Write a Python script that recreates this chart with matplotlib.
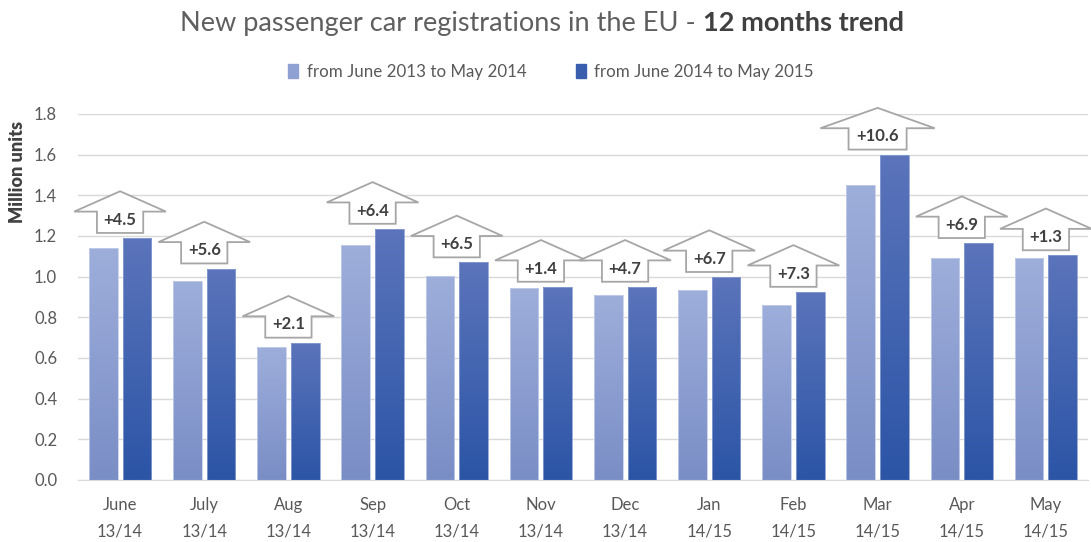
import numpy as np
import matplotlib
matplotlib.use('Agg')
import matplotlib.pyplot as plt
from matplotlib.patches import Polygon
from matplotlib.colors import LinearSegmentedColormap

plt.rcParams['font.family'] = ['Lato', 'DejaVu Sans']

months = ['June\n13/14', 'July\n13/14', 'Aug\n13/14', 'Sep\n13/14', 'Oct\n13/14', 'Nov\n13/14',
          'Dec\n13/14', 'Jan\n14/15', 'Feb\n14/15', 'Mar\n14/15', 'Apr\n14/15', 'May\n14/15']
prev_year = [1.14, 0.98, 0.655, 1.155, 1.005, 0.945, 0.91, 0.935, 0.86, 1.45, 1.09, 1.09]
this_year = [1.19, 1.04, 0.675, 1.235, 1.07, 0.95, 0.95, 0.998, 0.925, 1.60, 1.165, 1.105]
changes = ['+4.5', '+5.6', '+2.1', '+6.4', '+6.5', '+1.4', '+4.7', '+6.7', '+7.3', '+10.6', '+6.9', '+1.3']
legend_labels = ['from June 2013 to May 2014', 'from June 2014 to May 2015']

light_cmap = LinearSegmentedColormap.from_list('light', ['#7a8ec6', '#9eaedb'])
dark_cmap = LinearSegmentedColormap.from_list('dark', ['#2c55a6', '#5b74bb'])

fig = plt.figure(figsize=(10.91, 5.42), dpi=100)
ax = fig.add_axes([78 / 1091, 62 / 542, 1010 / 1091, (480 - 114) / 542])

x = np.arange(len(months))
grad = np.linspace(0, 1, 100).reshape(-1, 1)

bars1 = ax.bar(x - 0.2, prev_year, 0.34, color='none', edgecolor='#c5cfea', linewidth=0.6, zorder=3)
bars2 = ax.bar(x + 0.2, this_year, 0.34, color='none', edgecolor='#8a9fd2', linewidth=0.6, zorder=3)
for bars, cmap in [(bars1, light_cmap), (bars2, dark_cmap)]:
    for b in bars:
        x0, y0 = b.get_x(), b.get_y()
        im = ax.imshow(grad, extent=[x0, x0 + b.get_width(), y0, y0 + b.get_height()],
                       origin='lower', aspect='auto', cmap=cmap, zorder=2)
        im.set_clip_path(b)

# change arrows above each month
for i, lab in enumerate(changes):
    base = max(prev_year[i], this_year[i]) + 0.025
    hw, sw = (0.68, 0.345) if len(lab) > 4 else (0.545, 0.275)
    sh, hh = 0.105, 0.1
    pts = [(i - sw, base), (i + sw, base), (i + sw, base + sh), (i + hw, base + sh),
           (i, base + sh + hh), (i - hw, base + sh), (i - sw, base + sh)]
    ax.add_patch(Polygon(pts, closed=True, facecolor='white', edgecolor='#a6a6a6',
                         linewidth=1.3, zorder=4, clip_on=False))
    ax.text(i, base + sh * 0.62, lab, ha='center', va='center', fontsize=12,
            fontweight='bold', color='#404040', zorder=5)

ax.set_xlim(-0.5, 11.5)
ax.set_ylim(0, 1.8)
ax.set_yticks(np.arange(0, 1.81, 0.2))
ax.set_yticklabels(['%.1f' % v for v in np.arange(0, 1.81, 0.2)])
ax.set_xticks(x)
ax.set_xticklabels(months, linespacing=1.85)
ax.tick_params(axis='both', length=0, labelsize=12, labelcolor='#595959')
ax.tick_params(axis='x', pad=12)
ax.tick_params(axis='y', pad=15)
ax.grid(axis='y', color='#d9d9d9', linewidth=1, zorder=0)
for s in ['top', 'right', 'left']:
    ax.spines[s].set_visible(False)
ax.spines['bottom'].set_color('#d9d9d9')
ax.set_axisbelow(True)

fig.text(18 / 1091, 1 - 172 / 542, 'Million units', rotation=90, ha='center', va='center',
         fontsize=13, fontweight='heavy', color='#404040')

t1 = fig.text(703 / 1091, 1 - 23 / 542, 'New passenger car registrations in the EU - ',
              ha='right', va='center', fontsize=19.5, color='#5f5f5f')
ax.annotate('12 months trend', xy=(1, 0.5), xycoords=t1, ha='left', va='center',
            fontsize=19.5, fontweight='bold', color='#404040')

handles = [plt.Rectangle((0, 0), 1, 1, color='#8fa0d2'), plt.Rectangle((0, 0), 1, 1, color='#3a5eae')]
fig.legend(handles, legend_labels, loc='center', bbox_to_anchor=(551 / 1091, 1 - 72 / 542), ncol=2,
           frameon=False, fontsize=12.2, labelcolor='#595959', handlelength=0.6, handleheight=0.9,
           handletextpad=0.5, columnspacing=2.9)

fig.savefig('out.png', dpi=100)
